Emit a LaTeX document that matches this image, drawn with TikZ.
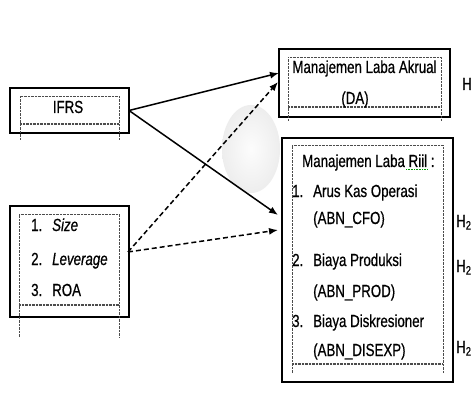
\documentclass[tikz,border=0pt]{standalone}
\usepackage{fontspec}
\setmainfont{Liberation Sans}[FakeStretch=0.76,FakeBold=0.6]
\usetikzlibrary{arrows.meta,calc}
\begin{document}
\begin{tikzpicture}[x=1pt,y=-1pt,
 outerbox/.style={draw=black, line width=1.2pt, inner sep=0pt, outer sep=0pt},
 dotline/.style={draw=gray!60!black, line width=0.6pt, dash pattern=on 0.7pt off 0.7pt},
 lbl/.style={font=\fontsize{17.5}{19}\selectfont, inner sep=0pt, anchor=base west},
 clbl/.style={lbl, anchor=base},
 sol/.style={line width=1.5pt, -{Latex[length=9pt,width=7pt]}},
 dsh/.style={sol, dash pattern=on 5pt off 3pt}
]
\useasboundingbox[fill=white] (0,0) rectangle (472,412);

% faint shaded ellipse
\shade[inner color=gray!2, outer color=gray!14] (251,149) ellipse [x radius=29pt, y radius=44pt];

% outer boxes
\node[outerbox, minimum width=119pt, minimum height=45pt] (ifrs) at (69.5,110.5) {};
\node[outerbox, minimum width=119pt, minimum height=111pt] (vars) at (69.5,261.5) {};
\node[outerbox, minimum width=171pt, minimum height=68pt] (da) at (364.5,83) {};
\node[outerbox, minimum width=171pt, minimum height=244pt] (riil) at (367.5,260) {};

% inner dotted text-area frames
\draw[dotline] (20,140) -- (20,96) -- (119,96) -- (119,140);
\draw[dotline] (20,123) -- (119,123);
\draw[dotline] (20,124.3) -- (119,124.3);

\draw[dotline] (19,337) -- (19,214) -- (119,214) -- (119,337);
\draw[dotline] (19,304) -- (119,304);
\draw[dotline] (19,305.3) -- (119,305.3);

\draw[dotline] (288,121) -- (288,57) -- (441,57) -- (441,121);
\draw[dotline] (288,106.5) -- (441,106.5);
\draw[dotline] (288,107.8) -- (441,107.8);

\draw[dotline] (292,373) -- (292,145) -- (443,145) -- (443,373);
\draw[dotline] (292,363) -- (443,363);
\draw[dotline] (292,364.3) -- (443,364.3);

% texts
\node[clbl] (tifrs) at (68,113) {IFRS};

\node[lbl] (v1n) at (31,231) {1.};
\node[lbl] (v1) at (52,231) {\itshape Size};
\node[lbl] (v2n) at (31,265) {2.};
\node[lbl] (v2) at (52,265) {\itshape Leverage};
\node[lbl] (v3n) at (31,296) {3.};
\node[lbl] (v3) at (52,296) {ROA};

\node[clbl] (tda1) at (364.5,73) {Manajemen Laba Akrual};
\node[clbl] (tda2) at (355,104) {(DA)};

\node[lbl] (tr0) at (302,167) {Manajemen Laba Riil :};
\draw[green!60!black, line width=0.6pt, dash pattern=on 0.8pt off 0.8pt] (406,169.5) -- (428,169.5);
\node[lbl] (r1n) at (292,197) {1.};
\node[lbl] (r1) at (313,197) {Arus Kas Operasi};
\node[lbl] (r1b) at (313,224) {(ABN\_CFO)};
\node[lbl] (r2n) at (292,266) {2.};
\node[lbl] (r2) at (313,266) {Biaya Produksi};
\node[lbl] (r2b) at (313,297) {(ABN\_PROD)};
\node[lbl] (r3n) at (292,327) {3.};
\node[lbl] (r3) at (313,327) {Biaya Diskresioner};
\node[lbl] (r3b) at (313,356) {(ABN\_DISEXP)};

\node[lbl] (h1) at (462,90) {H};
\node[lbl] (h2a) at (456,227) {H\textsubscript{2}};
\node[lbl] (h2b) at (456,272) {H\textsubscript{2}};
\node[lbl] (h2c) at (456,353) {H\textsubscript{2}};

% connectors
\coordinate (vs) at ($(vars.east)+(-1,-9.5)$);
\draw[sol] (ifrs.east) -- ($(da.west)+(0,-10)$);
\draw[sol] (ifrs.east) -- ($(riil.west)+(-4,-45)$);
\draw[dsh] (vs) -- ($(da.west)+(-1,-1)$);
\draw[dsh] (vs) -- ($(riil.west)+(-4,-30)$);
\end{tikzpicture}
\end{document}
